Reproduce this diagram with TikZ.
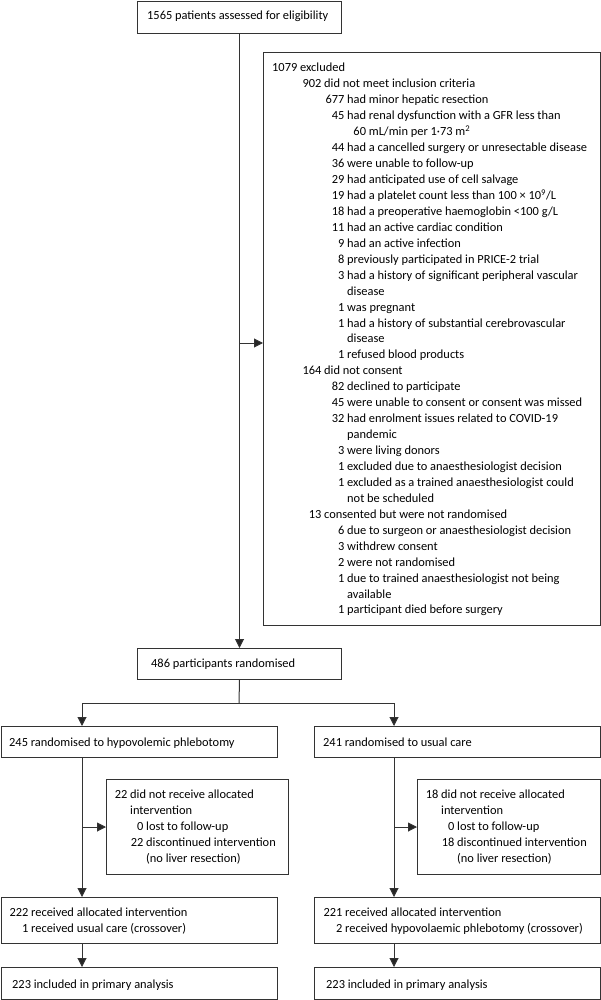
\documentclass[tikz,border=0pt]{standalone}
\usepackage{fontspec}
\setmainfont{Carlito}
\usetikzlibrary{arrows.meta}
\begin{document}
\begin{tikzpicture}[x=1pt,y=-1pt,
  box/.style={draw=black!80, line width=1pt, inner sep=0pt, anchor=north west},
  txt/.style={anchor=base west, inner sep=0pt, text=black, font=\fontsize{12.4}{15}\selectfont},
  ln/.style={draw=black!80, line width=1pt},
  arr/.style={draw=black!80, line width=1pt, -{Triangle[length=9pt,width=9pt,fill=black!85]}}]
\useasboundingbox (0,0) rectangle (601,1000);
% boxes
\node[box, minimum width=204pt, minimum height=32pt] (top) at (137,1) {};
\node[box, minimum width=336.5pt, minimum height=573pt] (excl) at (263,52) {};
\node[box, minimum width=204pt, minimum height=31pt] (rand) at (137,648) {};
\node[box, minimum width=276.5pt, minimum height=31pt] (grpL) at (0.5,726) {};
\node[box, minimum width=285.5pt, minimum height=31pt] (grpR) at (314,726) {};
\node[box, minimum width=182pt, minimum height=95pt] (sideL) at (106,779) {};
\node[box, minimum width=182.5pt, minimum height=95pt] (sideR) at (417,779) {};
\node[box, minimum width=276.5pt, minimum height=46pt] (recL) at (0.5,897) {};
\node[box, minimum width=285.5pt, minimum height=46pt] (recR) at (314,897) {};
\node[box, minimum width=276.5pt, minimum height=31.5pt] (inclL) at (0.5,967) {};
\node[box, minimum width=285.5pt, minimum height=31.5pt] (inclR) at (314,967) {};
% texts
\node[txt] (ttop) at (147,20) {1565 patients assessed for eligibility};
\node[txt] (e0) at (272,72) {1079 excluded};
\node[txt] (e1) at (324,87.94) {\llap{902\ }did not meet inclusion criteria};
\node[txt] (e2) at (347,103.88) {\llap{677\ }had minor hepatic resection};
\node[txt] (e3) at (347,119.82) {\llap{45\ }had renal dysfunction with a GFR less than};
\node[txt] (e4) at (347,135.76) {\hphantom{0}60 mL/min per 1·73 m\textsuperscript{2}};
\node[txt] (e5) at (347,151.7) {\llap{44\ }had a cancelled surgery or unresectable disease};
\node[txt] (e6) at (347,167.64) {\llap{36\ }were unable to follow-up};
\node[txt] (e7) at (347,183.58) {\llap{29\ }had anticipated use of cell salvage};
\node[txt] (e8) at (347,199.52) {\llap{19\ }had a platelet count less than 100 × 10\textsuperscript{9}/L};
\node[txt] (e9) at (347,215.46) {\llap{18\ }had a preoperative haemoglobin <100 g/L};
\node[txt] (e10) at (347,231.4) {\llap{11\ }had an active cardiac condition};
\node[txt] (e11) at (347,247.34) {\llap{9\ }had an active infection};
\node[txt] (e12) at (347,263.28) {\llap{8\ }previously participated in PRICE-2 trial};
\node[txt] (e13) at (347,279.22) {\llap{3\ }had a history of significant peripheral vascular};
\node[txt] (e14) at (347,295.16) {disease};
\node[txt] (e15) at (347,311.1) {\llap{1\ }was pregnant};
\node[txt] (e16) at (347,327.04) {\llap{1\ }had a history of substantial cerebrovascular};
\node[txt] (e17) at (347,342.98) {disease};
\node[txt] (e18) at (347,358.92) {\llap{1\ }refused blood products};
\node[txt] (e19) at (324,374.86) {\llap{164\ }did not consent};
\node[txt] (e20) at (347,390.8) {\llap{82\ }declined to participate};
\node[txt] (e21) at (347,406.74) {\llap{45\ }were unable to consent or consent was missed};
\node[txt] (e22) at (347,422.68) {\llap{32\ }had enrolment issues related to COVID-19};
\node[txt] (e23) at (347,438.62) {pandemic};
\node[txt] (e24) at (347,454.56) {\llap{3\ }were living donors};
\node[txt] (e25) at (347,470.5) {\llap{1\ }excluded due to anaesthesiologist decision};
\node[txt] (e26) at (347,486.44) {\llap{1\ }excluded as a trained anaesthesiologist could};
\node[txt] (e27) at (347,502.38) {not be scheduled};
\node[txt] (e28) at (324,518.32) {\llap{13\ }consented but were not randomised};
\node[txt] (e29) at (347,534.26) {\llap{6\ }due to surgeon or anaesthesiologist decision};
\node[txt] (e30) at (347,550.2) {\llap{3\ }withdrew consent};
\node[txt] (e31) at (347,566.14) {\llap{2\ }were not randomised};
\node[txt] (e32) at (347,582.08) {\llap{1\ }due to trained anaesthesiologist not being};
\node[txt] (e33) at (347,598.02) {available};
\node[txt] (e34) at (347,613.96) {\llap{1\ }participant died before surgery};
\node[txt] (trand) at (151,667) {486 participants randomised};
\node[txt] (tgL) at (9,746) {245 randomised to hypovolemic phlebotomy};
\node[txt] (tgR) at (323,746) {241 randomised to usual care};
\node[txt] (sL1) at (130,798) {\llap{22\ }did not receive allocated};
\node[txt] (sL2) at (130,814) {intervention};
\node[txt] (sL3) at (146,830) {\llap{0\ }lost to follow-up};
\node[txt] (sL4) at (146,846) {\llap{22\ }discontinued intervention};
\node[txt] (sL5) at (146,862) {(no liver resection)};
\node[txt] (sR1) at (441,798) {\llap{18\ }did not receive allocated};
\node[txt] (sR2) at (441,814) {intervention};
\node[txt] (sR3) at (457,830) {\llap{0\ }lost to follow-up};
\node[txt] (sR4) at (457,846) {\llap{18\ }discontinued intervention};
\node[txt] (sR5) at (457,862) {(no liver resection)};
\node[txt] (rL1) at (31,916) {\llap{222\ }received allocated intervention};
\node[txt] (rL2) at (31,932) {\llap{1\ }received usual care (crossover)};
\node[txt] (rR1) at (345,916) {\llap{221\ }received allocated intervention};
\node[txt] (rR2) at (345,932) {\llap{2\ }received hypovolaemic phlebotomy (crossover)};
\node[txt] (iL) at (12,988) {223 included in primary analysis};
\node[txt] (iR) at (326,988) {223 included in primary analysis};
% connectors
\coordinate (j1) at (239,343);
\coordinate (split) at (239,703);
\coordinate (cL) at (82,703);
\coordinate (cR) at (394,703);
\coordinate (jL) at (82,827);
\coordinate (jR) at (394,827);
\draw[arr] (top.south) -- (rand.north);
\draw[arr] (j1) -- (j1 -| excl.west);
\draw[ln] (rand.south) -- (split);
\draw[ln] (cL) -- (cR);
\draw[arr] (cL) -- (cL |- grpL.north);
\draw[arr] (cR) -- (cR |- grpR.north);
\draw[arr] (cL |- grpL.south) -- (cL |- recL.north);
\draw[arr] (cR |- grpR.south) -- (cR |- recR.north);
\draw[arr] (jL) -- (jL -| sideL.west);
\draw[arr] (jR) -- (jR -| sideR.west);
\draw[arr] (cL |- recL.south) -- (cL |- inclL.north);
\draw[arr] (cR |- recR.south) -- (cR |- inclR.north);
\end{tikzpicture}
\end{document}
